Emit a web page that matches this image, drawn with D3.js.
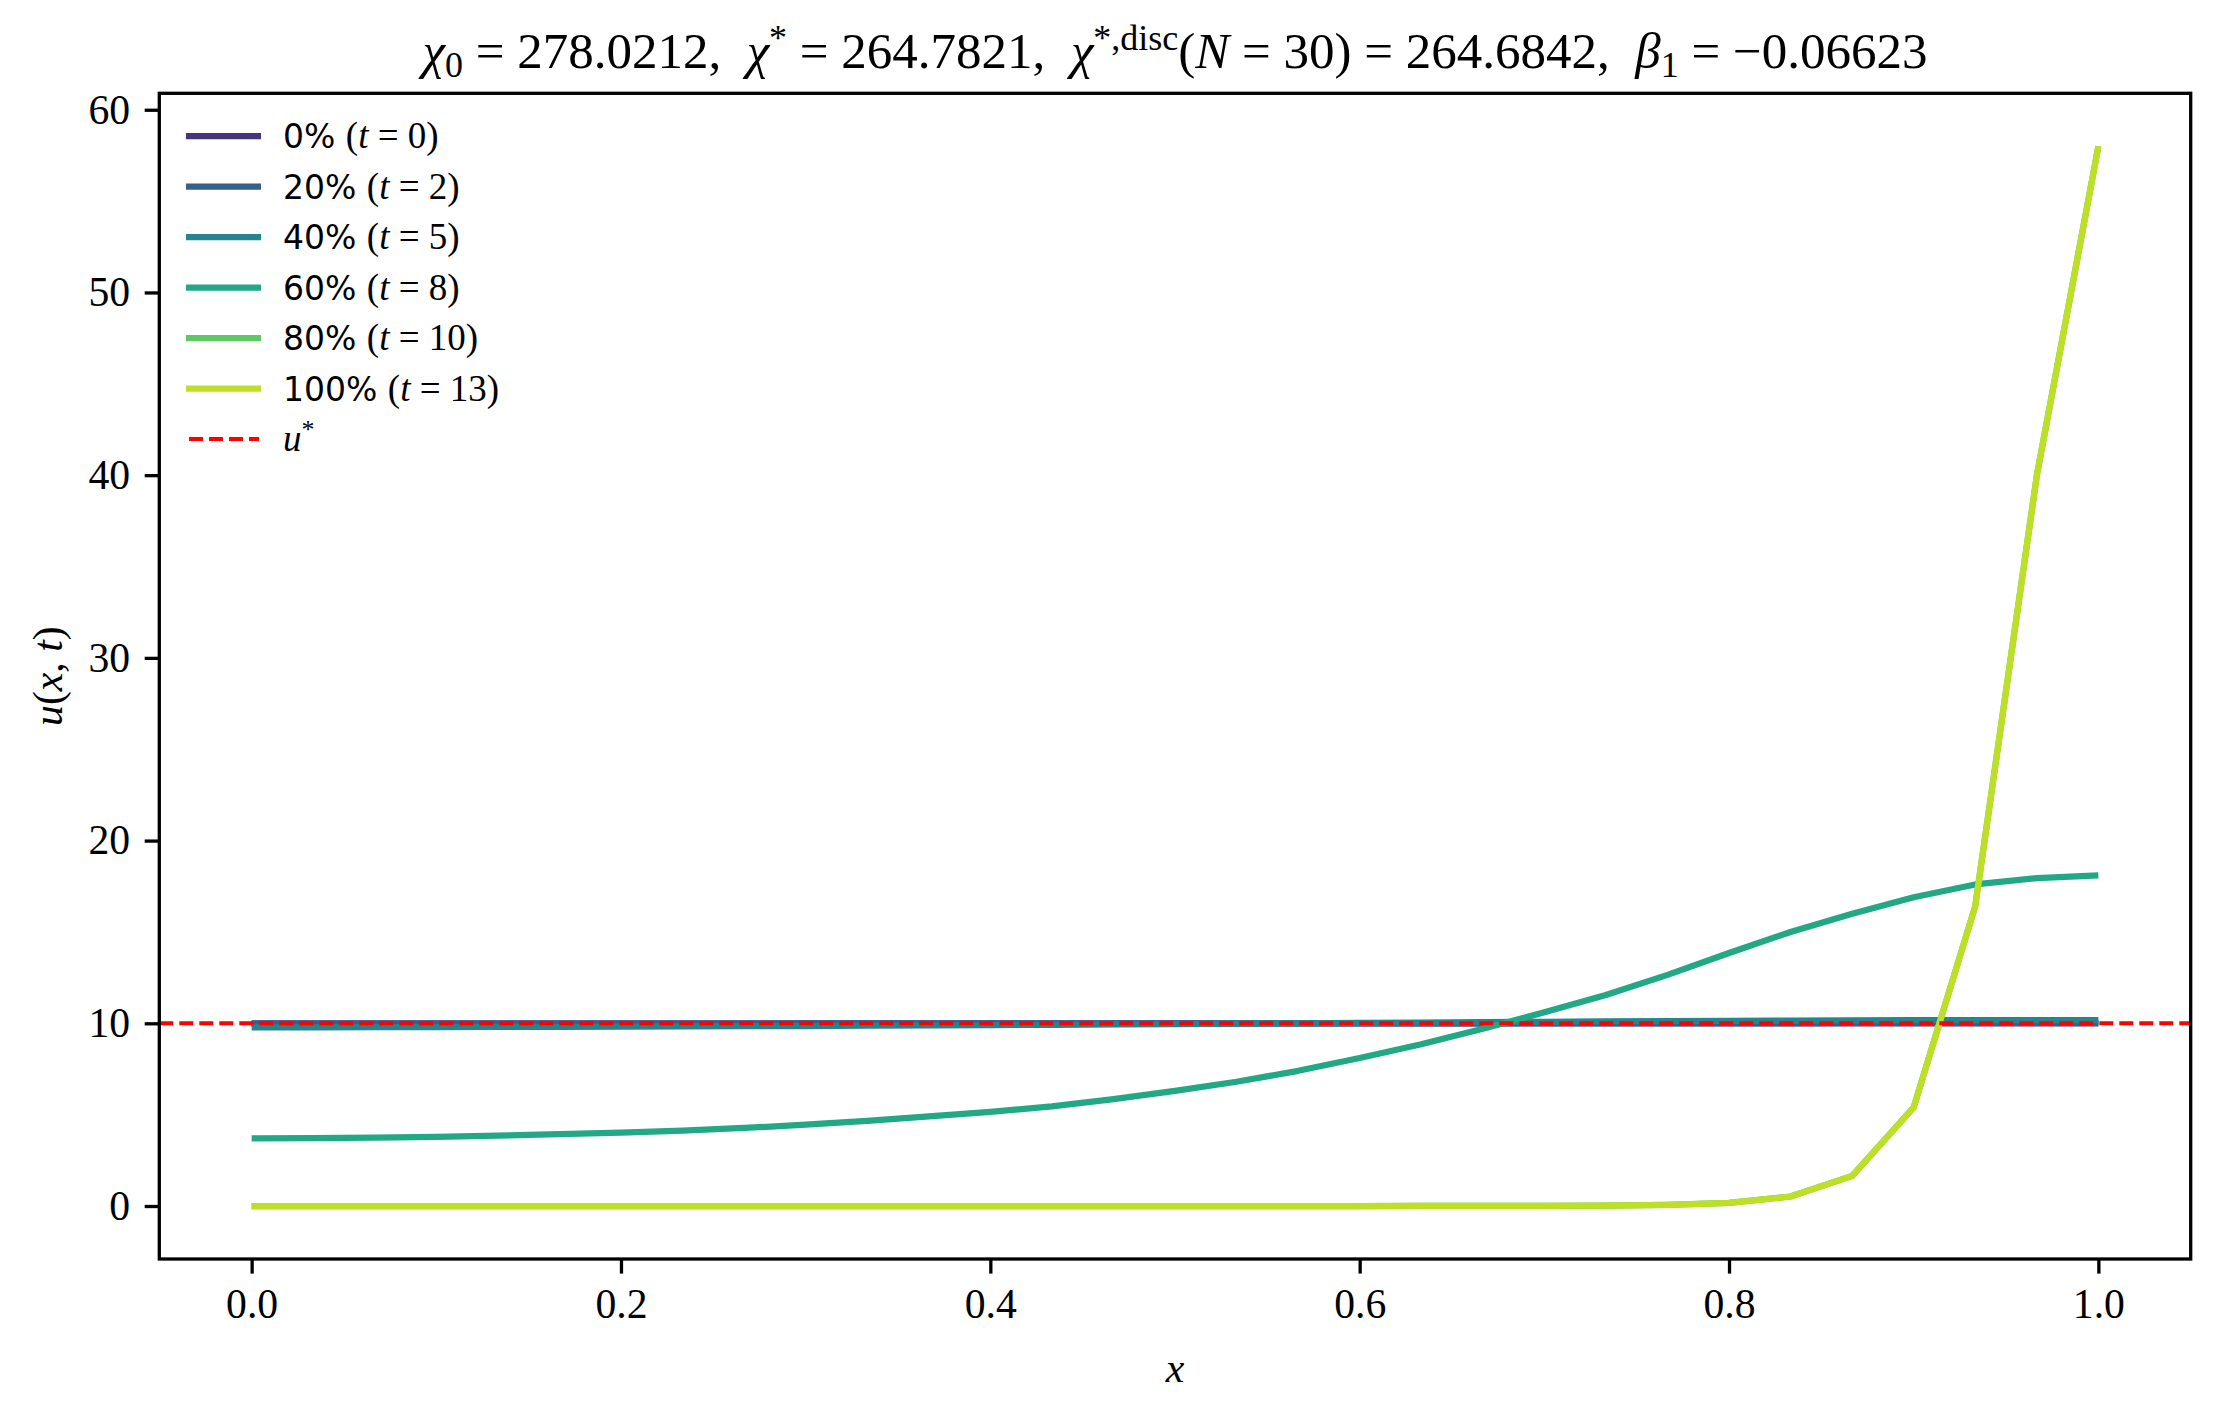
<!DOCTYPE html>
<html>
<head>
<meta charset="utf-8">
<script src="https://cdn.jsdelivr.net/npm/d3@7/dist/d3.min.js"></script>
<style>
body { margin: 0; background: #fff; }
text { fill: #000; }
</style>
</head>
<body>
<div id="chart"></div>
<script>
// grid points x_i = i/30 (N = 30)
var xs = [0.0000, 0.0333, 0.0667, 0.1000, 0.1333, 0.1667, 0.2000, 0.2333, 0.2667, 0.3000,
          0.3333, 0.3667, 0.4000, 0.4333, 0.4667, 0.5000, 0.5333, 0.5667, 0.6000, 0.6333,
          0.6667, 0.7000, 0.7333, 0.7667, 0.8000, 0.8333, 0.8667, 0.9000, 0.9333, 0.9667, 1.0000];

// u(x,t) snapshots
var u_t0 = [10.00, 10.00, 10.00, 10.00, 10.00, 10.00, 10.00, 10.00, 10.00, 10.00,
            10.00, 10.00, 10.00, 10.00, 10.00, 10.00, 10.00, 10.00, 10.00, 10.00,
            10.00, 10.00, 10.00, 10.00, 10.00, 10.00, 10.00, 10.00, 10.00, 10.00, 10.00];
var u_t2 = [9.98, 9.98, 9.98, 9.98, 9.98, 9.98, 9.98, 9.98, 9.98, 9.99,
            9.99, 9.99, 9.99, 9.99, 9.99, 10.00, 10.00, 10.00, 10.00, 10.00,
            10.00, 10.01, 10.01, 10.01, 10.01, 10.01, 10.02, 10.02, 10.02, 10.02, 10.02];
var u_t5 = [9.78, 9.78, 9.79, 9.79, 9.80, 9.81, 9.82, 9.83, 9.84, 9.85,
            9.87, 9.88, 9.90, 9.92, 9.94, 9.96, 9.98, 10.00, 10.02, 10.04,
            10.06, 10.08, 10.10, 10.12, 10.13, 10.15, 10.16, 10.17, 10.18, 10.18, 10.18];
var u_t8 = [3.70, 3.71, 3.74, 3.79, 3.85, 3.93, 4.02, 4.13, 4.27, 4.45,
            4.66, 4.90, 5.15, 5.45, 5.85, 6.30, 6.80, 7.40, 8.10, 8.85,
            9.70, 10.60, 11.55, 12.65, 13.85, 15.00, 16.00, 16.90, 17.60, 17.95, 18.10];
var u_t10 = [0.00, 0.00, 0.00, 0.00, 0.00, 0.00, 0.00, 0.00, 0.00, 0.00,
             0.00, 0.00, 0.00, 0.00, 0.00, 0.00, 0.00, 0.00, 0.00, 0.001,
             0.003, 0.008, 0.02, 0.06, 0.17, 0.52, 1.65, 5.40, 16.40, 40.00, 58.00];
var u_t13 = [0.00, 0.00, 0.00, 0.00, 0.00, 0.00, 0.00, 0.00, 0.00, 0.00,
             0.00, 0.00, 0.00, 0.00, 0.00, 0.00, 0.00, 0.00, 0.00, 0.001,
             0.003, 0.008, 0.02, 0.06, 0.17, 0.52, 1.65, 5.40, 16.40, 40.00, 58.00];

var snapshots = [u_t0, u_t2, u_t5, u_t8, u_t10, u_t13];
var pctLabels = ['0%', '20%', '40%', '60%', '80%', '100%'];
var tLabels = ['0', '2', '5', '8', '10', '13'];
var viridisPos = [0.15, 0.30, 0.45, 0.60, 0.75, 0.90];
var uStar = 10;

var xTicks = [0.0, 0.2, 0.4, 0.6, 0.8, 1.0];
var yTicks = [0, 10, 20, 30, 40, 50, 60];

var W = 2220, H = 1409;
var m = {left: 159.3, right: 2190.7, top: 93.3, bottom: 1259};
var serif = "'Liberation Serif', 'DejaVu Serif', serif";
var sans = "'DejaVu Sans', sans-serif";

var svg = d3.select('#chart').append('svg')
    .attr('width', W).attr('height', H)
    .style('display', 'block');

var yMin = d3.min(snapshots, function(s) { return d3.min(s); });
var yMax = d3.max(snapshots, function(s) { return d3.max(s); });
var pad = 0.05 * (yMax - yMin);

var x = d3.scaleLinear().domain([-0.05, 1.05]).range([m.left, m.right]);
var y = d3.scaleLinear().domain([yMin - pad, yMax + pad]).range([m.bottom, m.top]);

svg.append('clipPath').attr('id', 'clip')
  .append('rect')
    .attr('x', m.left).attr('y', m.top)
    .attr('width', m.right - m.left).attr('height', m.bottom - m.top);

var plot = svg.append('g').attr('clip-path', 'url(#clip)');

var line = d3.line()
    .x(function(d, i) { return x(xs[i]); })
    .y(function(d) { return y(d); });

snapshots.forEach(function(s, k) {
  plot.append('path')
      .attr('d', line(s))
      .attr('fill', 'none')
      .attr('stroke', d3.interpolateViridis(viridisPos[k]))
      .attr('stroke-width', 6.25)
      .attr('stroke-linejoin', 'round')
      .attr('stroke-linecap', 'butt');
});

plot.append('line')
    .attr('x1', m.left).attr('x2', m.right)
    .attr('y1', y(uStar)).attr('y2', y(uStar))
    .attr('stroke', '#ff0000')
    .attr('stroke-width', 4)
    .attr('stroke-dasharray', '14,6');

// axes
var tickLen = 14.6, tickPad = 14.6;
var xAxis = svg.append('g')
    .attr('transform', 'translate(0,' + m.bottom + ')')
    .call(d3.axisBottom(x).tickValues(xTicks).tickFormat(d3.format('.1f'))
          .tickSize(tickLen).tickPadding(tickPad));
var yAxis = svg.append('g')
    .attr('transform', 'translate(' + m.left + ',0)')
    .call(d3.axisLeft(y).tickValues(yTicks).tickFormat(d3.format('d'))
          .tickSize(tickLen).tickPadding(tickPad));

[xAxis, yAxis].forEach(function(a) {
  a.select('.domain').remove();
  a.selectAll('.tick line').attr('stroke', '#000').attr('stroke-width', 3.3);
  a.selectAll('.tick text')
      .style('font-family', serif).style('font-size', '41.7px').attr('fill', '#000');
});

svg.append('rect')
    .attr('x', m.left).attr('y', m.top)
    .attr('width', m.right - m.left).attr('height', m.bottom - m.top)
    .attr('fill', 'none').attr('stroke', '#000').attr('stroke-width', 3.3);

// axis labels
svg.append('text')
    .attr('x', (m.left + m.right) / 2).attr('y', 1382)
    .attr('text-anchor', 'middle')
    .style('font-family', serif).style('font-size', '41.7px').style('font-style', 'italic')
    .text('x');

var yl = svg.append('text')
    .attr('transform', 'translate(62,' + ((m.top + m.bottom) / 2) + ') rotate(-90)')
    .attr('text-anchor', 'middle')
    .style('font-family', serif).style('font-size', '41.7px');
yl.append('tspan').style('font-style', 'italic').text('u');
yl.append('tspan').text('(');
yl.append('tspan').style('font-style', 'italic').text('x');
yl.append('tspan').text(', ');
yl.append('tspan').style('font-style', 'italic').text('t');
yl.append('tspan').text(')');

// title
var title = svg.append('text')
    .attr('x', (m.left + m.right) / 2).attr('y', 68)
    .attr('text-anchor', 'middle')
    .style('white-space', 'pre')
    .style('font-family', serif).style('font-size', '51px');
function tp(txt, opts) {
  var t = title.append('tspan').text(txt);
  opts = opts || {};
  if (opts.it) t.style('font-style', 'italic');
  if (opts.dy) t.attr('dy', opts.dy);
  if (opts.size) t.style('font-size', opts.size);
  return t;
}
tp('\u03C7', {it: 1});
tp('0', {dy: 9, size: '36px'});
tp(' = 278.0212,  ', {dy: -9});
tp('\u03C7', {it: 1});
tp('*', {dy: -18, size: '36px'});
tp(' = 264.7821,  ', {dy: 18});
tp('\u03C7', {it: 1});
tp('*,disc', {dy: -18, size: '36px'});
tp('(', {dy: 18});
tp('N', {it: 1});
tp(' = 30) = 264.6842,  ');
tp('\u03B2', {it: 1});
tp('1', {dy: 9, size: '36px'});
tp(' = \u22120.06623', {dy: -9});

// legend
var rowY = [136, 186.5, 237, 287.5, 338, 388.5];
var leg = svg.append('g');
snapshots.forEach(function(s, k) {
  leg.append('line')
      .attr('x1', 186).attr('x2', 261)
      .attr('y1', rowY[k]).attr('y2', rowY[k])
      .attr('stroke', d3.interpolateViridis(viridisPos[k]))
      .attr('stroke-width', 6.25);
  var t = leg.append('text')
      .attr('x', 283).attr('y', rowY[k] + 12)
      .style('white-space', 'pre');
  t.append('tspan').style('font-family', sans).style('font-size', '33px').text(pctLabels[k] + ' ');
  t.append('tspan').style('font-family', serif).style('font-size', '37px').text('(');
  t.append('tspan').style('font-family', serif).style('font-size', '37px').style('font-style', 'italic').text('t');
  t.append('tspan').style('font-family', serif).style('font-size', '37px').text(' = ' + tLabels[k] + ')');
});
leg.append('line')
    .attr('x1', 189).attr('x2', 259)
    .attr('y1', 439).attr('y2', 439)
    .attr('stroke', '#ff0000').attr('stroke-width', 4)
    .attr('stroke-dasharray', '14,6');
var us = leg.append('text').attr('x', 283).attr('y', 451)
    .style('font-family', serif).style('font-size', '37px');
us.append('tspan').style('font-style', 'italic').text('u');
us.append('tspan').attr('dy', -13).style('font-size', '26px').text('*');
</script>
</body>
</html>
